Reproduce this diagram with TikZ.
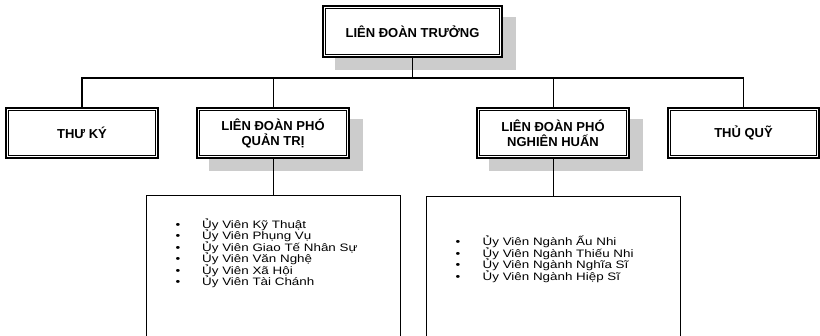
\documentclass[tikz,border=0pt]{standalone}
\usepackage{fontspec}
\setmainfont{Liberation Sans}
\newfontfamily\listfont{Liberation Sans}[FakeStretch=1.24]
\usetikzlibrary{backgrounds}

\tikzset{
  postbox/.style={draw, line width=1.6pt, fill=white, minimum width=152pt, minimum height=50pt,
    align=center, font=\fontsize{13}{15}\selectfont\bfseries,
    path picture={\draw[line width=0.7pt]
      ([shift={(2.2pt,-2.2pt)}]path picture bounding box.north west) rectangle
      ([shift={(-2.2pt,2.2pt)}]path picture bounding box.south east);}},
  shadowbox/.style={fill=black!20, draw=none},
  listbox/.style={draw, line width=0.8pt, minimum width=254pt, minimum height=170pt, anchor=north},
  entry/.style={anchor=base west, inner sep=0pt, font=\listfont\fontsize{10.8}{13}\selectfont},
  link/.style={line width=1pt},
  trunk/.style={line width=1.4pt},
}

\begin{document}
\begin{tikzpicture}[x=1pt, y=-1pt]
  \useasboundingbox (0,0) rectangle (820,335);
  \clip (0,0) rectangle (820,335);

  % top level
  \node[postbox, minimum width=179pt, minimum height=51pt] (ldt) at (412.5,31.5) {LIÊN ĐOÀN TRƯỞNG};
  \coordinate (bus) at (412.5,78);

  % second level
  \node[postbox] (thuky) at (82,133) {THƯ KÝ};
  \node[postbox] (quantri) at (273,133) {LIÊN ĐOÀN PHÓ\\QUẢN TRỊ};
  \node[postbox] (nghienhuan) at (553,133) {LIÊN ĐOÀN PHÓ\\NGHIÊN HUẤN};
  \node[postbox, minimum width=151pt] (thuquy) at (743.5,133) {THỦ QUỸ};

  % shadows
  \begin{scope}[on background layer]
    \foreach \n in {ldt,quantri,nghienhuan}
      \fill[shadowbox] ([shift={(13pt,-12pt)}]\n.south west) rectangle ([shift={(13pt,-12pt)}]\n.north east);
  \end{scope}

  % list boxes
  \node[listbox] (qtlist) at (273,195) {};
  \node[listbox] (nhlist) at (553,196) {};

  \foreach \t [count=\i] in {Ủy Viên Kỹ Thuật, Ủy Viên Phụng Vụ, Ủy Viên Giao Tế Nhân Sự,
      Ủy Viên Văn Nghệ, Ủy Viên Xã Hội, Ủy Viên Tài Chánh}
    \node[entry] (qt\i) at (175.5,228+11.5*\i-11.5) {\makebox[26.5pt][l]{•}\t};

  \foreach \t [count=\i] in {Ủy Viên Ngành Ấu Nhi, Ủy Viên Ngành Thiếu Nhi,
      Ủy Viên Ngành Nghĩa Sĩ, Ủy Viên Ngành Hiệp Sĩ}
    \node[entry] (nh\i) at (455.5,245.7+11.5*\i-11.5) {\makebox[27pt][l]{•}\t};

  % connectors
  \draw[trunk] (ldt.south) -- (bus);
  \draw[trunk] (thuky.north) |- (bus) -| (thuquy.north);
  \draw[link] (quantri.north) -- (quantri.north |- bus);
  \draw[link] (nghienhuan.north) -- (nghienhuan.north |- bus);
  \draw[link] (quantri.south) -- (qtlist.north);
  \draw[link] (nghienhuan.south) -- (nhlist.north);
\end{tikzpicture}
\end{document}
